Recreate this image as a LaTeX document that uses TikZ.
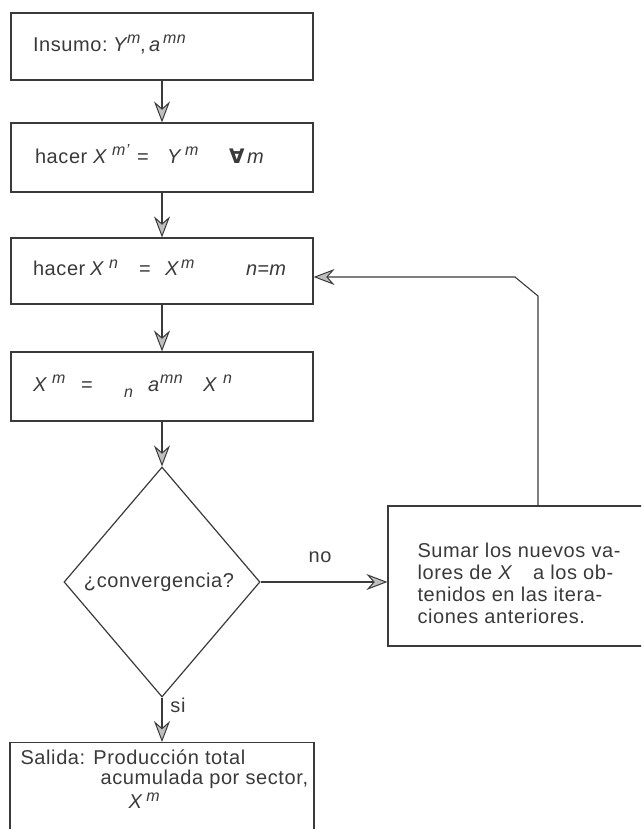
\documentclass[tikz,border=0pt]{standalone}
\usepackage{fontspec}
\setmainfont{Liberation Sans}[LetterSpace=3]
\newfontfamily\symfont{DejaVu Sans}
\usetikzlibrary{arrows.meta,shapes.geometric}
\definecolor{ink}{HTML}{3A3A3A}
\newcommand\var[1]{\textit{#1}}
\newcommand\supx[1]{\raisebox{7.5pt}{\fontsize{16}{16}\selectfont\itshape #1}}
\newcommand\subx[1]{\raisebox{-6pt}{\fontsize{16}{16}\selectfont\itshape #1}}
% place a piece of a formula at a fixed offset from the start of its line
\newcommand\putat[2]{\makebox[0pt][l]{\hspace*{#1pt}#2}}
\begin{document}
\begin{tikzpicture}[x=1pt,y=-1pt,
  every node/.style={text=ink, font=\fontsize{20}{22}\selectfont},
  stepbox/.style={draw=ink, line width=1.2pt, text width=258pt, inner xsep=22pt,
    inner ysep=0pt, align=left},
  plainbox/.style={draw=ink, line width=1.2pt},
  decision/.style={diamond, draw=ink, line width=1.2pt, inner sep=0pt,
    minimum width=196pt, minimum height=230pt},
  flow/.style={draw=ink, line width=1.1pt,
    -{Stealth[length=21pt,width=16pt,inset=7pt,fill=gray!50,line width=1pt]}}]
\useasboundingbox (0,0) rectangle (641,829);
\clip (0,0) rectangle (641,829);

% main column of steps
\node[stepbox, minimum height=67pt] (b1) at (162,46.5)
  {\strut\putat{0}{Insumo:}\putat{80}{\var{Y}}\putat{94}{\supx{m}}\putat{107}{,}%
   \putat{116}{\var{a}}\putat{130}{\supx{mn}}};
\node[stepbox, minimum height=69pt] (b2) at (162,157.5)
  {\strut\putat{2}{hacer}\putat{60}{\var{X}}\putat{79}{\supx{m'}}\putat{104}{=}%
   \putat{134}{\var{Y}}\putat{152}{\supx{m}}\putat{196}{{\symfont\bfseries ∀}}\putat{214}{\var{m}}};
\node[stepbox, minimum height=66pt] (b3) at (162,271)
  {\strut\putat{0}{hacer}\putat{57}{\var{X}}\putat{76}{\supx{n}}\putat{106}{=}%
   \putat{132}{\var{X}}\putat{148}{\supx{m}}\putat{213}{\var{n}=\var{m}}};
\node[stepbox, minimum height=69pt] (b4) at (162,386.5)
  {\strut\putat{0}{\var{X}}\putat{19}{\supx{m}}\putat{48}{=}\putat{91}{\subx{n}}%
   \putat{115}{\var{a}}\putat{127}{\supx{mn}}\putat{170}{\var{X}}\putat{190}{\supx{n}}};

% test
\node[decision] (dec) at (162,582) {\hspace*{-6pt}¿convergencia?};

% correction step on the right, running off the page edge
\node[plainbox, minimum width=420pt, minimum height=140pt] (sum) at (598,576) {};
\node[anchor=west, align=left] (sumtxt) at (414,583)
  {Sumar los nuevos va-\\lores de \var{X}\hspace{20pt}a los ob-\\tenidos en las itera-\\ciones anteriores.};

% output, running off the bottom edge
\node[plainbox, minimum width=304pt, minimum height=110pt, anchor=north] (out) at (162,742) {};
\node[anchor=north west, align=left, font=\fontsize{20}{20}\selectfont] (outtxt) at (17,746)
  {Salida: Producción total\\\hspace*{80pt}acumulada por sector,\\[3pt]\hspace*{108pt}\var{X}\,\supx{m}};

% branch labels
\node (nolab) at (320,557) {no};
\node (silab) at (178,705) {si};

% connectors
\draw[flow] (b1.south) -- (b2.north);
\draw[flow] (b2.south) -- (b3.north);
\draw[flow] (b3.south) -- (b4.north);
\draw[flow] (b4.south) -- (dec.north);
\draw[flow] (dec.south) -- (out.north);
\draw[flow] (dec.east) -- (dec.east -| sum.west);
\coordinate (up) at (538,296);
\coordinate (turn) at (515,277);
\draw[flow] (up |- sum.north) -- (up) -- (turn) -- (turn -| b3.east);
\end{tikzpicture}
\end{document}
